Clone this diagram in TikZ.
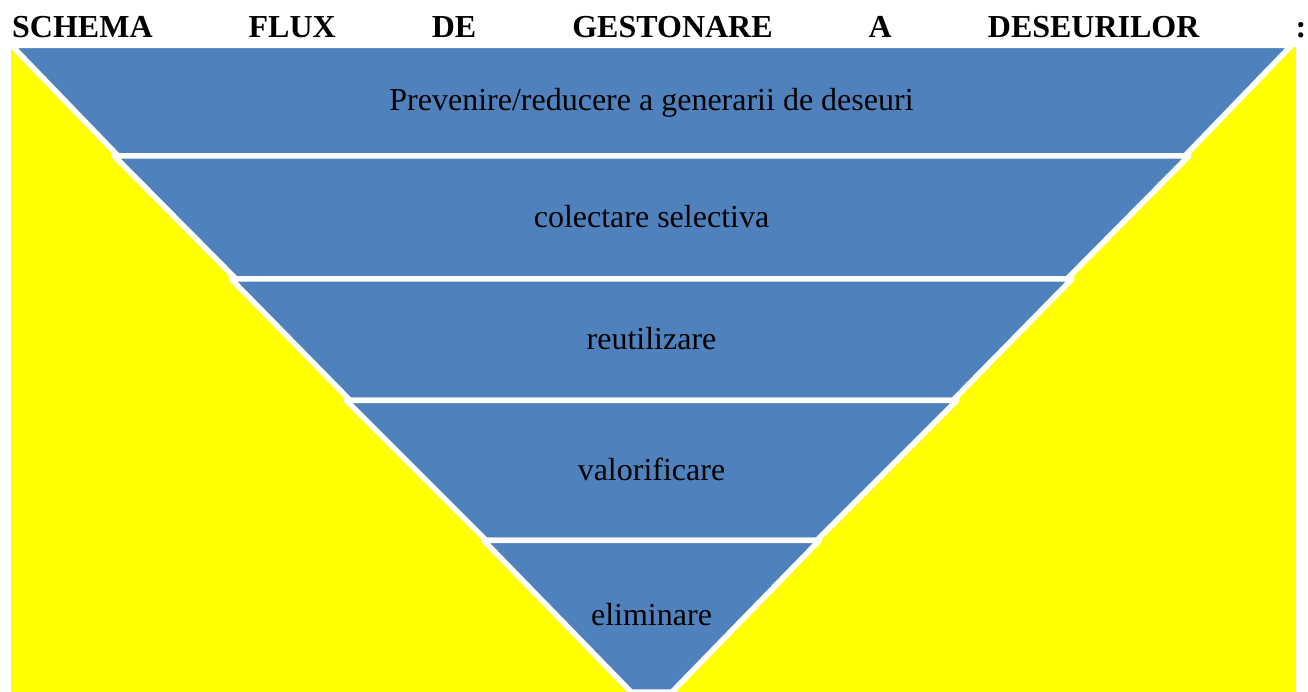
\documentclass[tikz,border=0pt]{standalone}
\usepackage{fontspec}
\setmainfont{Liberation Serif}
\definecolor{layerblue}{HTML}{4F81BD}
\definecolor{bgyellow}{HTML}{FFFF00}
\begin{document}
\begin{tikzpicture}[x=1pt,y=-1pt,
  layer/.style={fill=layerblue,draw=white,line width=5.5pt,line join=round},
  lbl/.style={anchor=base,inner sep=0pt,font=\fontsize{32}{38}\selectfont},
  ttl/.style={anchor=base west,inner sep=0pt,font=\fontsize{32}{38}\selectfont\bfseries}]
\useasboundingbox (0,0) rectangle (1308,692);
% title
\node[ttl] (title) at (12,37.5) {\hbox to 1294pt{SCHEMA\hfill FLUX\hfill DE\hfill GESTONARE\hfill A\hfill DESEURILOR\hfill :}};
% yellow background
\fill[bgyellow] (11,47) rectangle (1296,692);
% layers (center x = 651.5)
\def\cx{651.5}
\draw[layer] (\cx-639.9,45.5) -- (\cx+639.9,45.5) -- (\cx+533.5,155.8) -- (\cx-533.5,155.8) -- cycle;
\draw[layer] (\cx-537.5,155.8) -- (\cx+537.5,155.8) -- (\cx+415.5,279) -- (\cx-415.5,279) -- cycle;
\draw[layer] (\cx-420.5,279) -- (\cx+420.5,279) -- (\cx+301.5,400.3) -- (\cx-301.5,400.3) -- cycle;
\draw[layer] (\cx-305.5,400.3) -- (\cx+305.5,400.3) -- (\cx+165.5,540.3) -- (\cx-165.5,540.3) -- cycle;
\draw[layer] (\cx-168,540.3) -- (\cx+168,540.3) -- (\cx+20.5,692) -- (\cx-20.5,692) -- cycle;
% labels
\node[lbl] (l1) at (\cx,110.7) {Prevenire/reducere a generarii de deseuri};
\node[lbl] (l2) at (\cx,227.3) {colectare selectiva};
\node[lbl] (l3) at (\cx,349.6) {reutilizare};
\node[lbl] (l4) at (\cx,480.3) {valorificare};
\node[lbl] (l5) at (\cx,625) {eliminare};
\end{tikzpicture}
\end{document}
